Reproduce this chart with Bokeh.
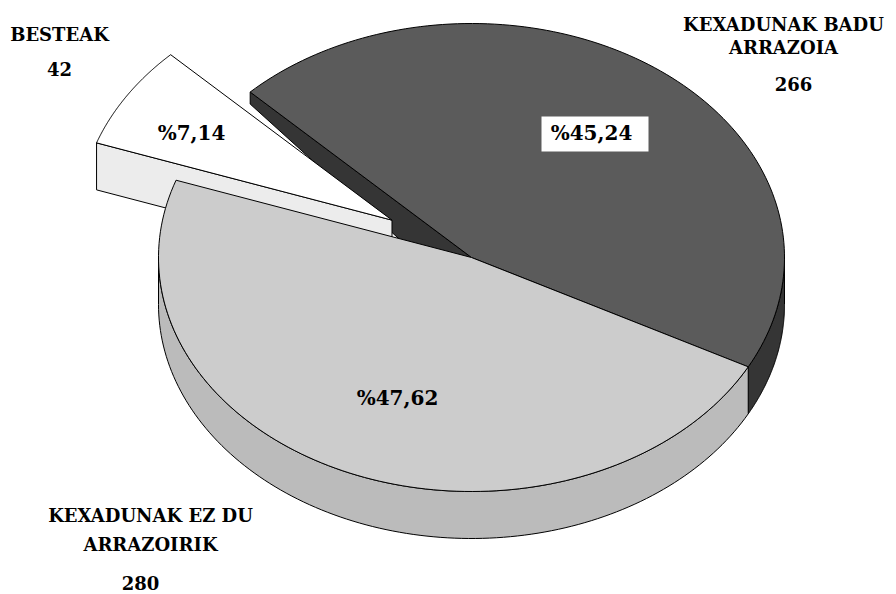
import numpy as np
from bokeh.plotting import figure
from bokeh.models import Range1d
from bokeh.core.properties import value
from bokeh.embed import file_html
from bokeh.resources import INLINE

# ---------------- data ----------------
categories = ["KEXADUNAK BADU ARRAZOIA", "KEXADUNAK EZ DU ARRAZOIRIK", "BESTEAK"]
label_lines = [["KEXADUNAK BADU", "ARRAZOIA"], ["KEXADUNAK EZ DU", "ARRAZOIRIK"], ["BESTEAK"]]
counts = [266, 280, 42]
exploded = [False, False, True]

# ---------------- style ----------------
top_colors = ["#5b5b5b", "#cccccc", "#ffffff"]
side_colors = ["#353535", "#bbbbbb", "#ececec"]
FONT = value("DejaVu Serif")
text_dy = -8.0  # compensate baseline placement of svg text

W, H = 896, 594
p = figure(width=W, height=H, x_range=Range1d(0, W), y_range=Range1d(H, 0),
           output_backend="svg", toolbar_location=None, min_border=0,
           x_axis_type=None, y_axis_type=None)
p.grid.visible = False
p.outline_line_color = None
p.background_fill_color = "white"

# pie geometry (pixel space of the page)
cx, cy = 471.0, 257.0
rx, ry = 313.0, 234.0
depth = 47.0
start_angle = 135.0
explode_k = 0.30
wall_rim_depth = 12.0

total = float(sum(counts))
spans = [c / total * 360.0 for c in counts]
starts, ends = [], []
a = start_angle
for s in spans:
    starts.append(a)
    ends.append(a - s)
    a -= s

offsets = []
for i in range(len(counts)):
    if exploded[i]:
        mid = np.radians((starts[i] + ends[i]) / 2.0)
        offsets.append((explode_k * rx * np.cos(mid), -explode_k * ry * np.sin(mid)))
    else:
        offsets.append((0.0, 0.0))


def arc(t1, t2, off, down=0.0, n=120):
    t = np.radians(np.linspace(t1, t2, n))
    return (cx + rx * np.cos(t) + off[0]).tolist(), (cy - ry * np.sin(t) + off[1] + down).tolist()


def pt(tdeg, off, down=0.0):
    t = np.radians(tdeg)
    return cx + rx * np.cos(t) + off[0], cy - ry * np.sin(t) + off[1] + down


def front_ranges(lo, hi):
    res = []
    for k in (-2, -1, 0, 1):
        a0, a1 = 180 + 360 * k, 360 + 360 * k
        l, h = max(lo, a0), min(hi, a1)
        if h > l:
            res.append((l, h))
    return res


def draw_side(i):
    off = offsets[i]
    for lo, hi in front_ranges(ends[i], starts[i]):
        xt, yt = arc(lo, hi, off)
        xb, yb = arc(hi, lo, off, depth)
        p.patch(xt + xb, yt + yb, fill_color=side_colors[i], line_color="black", line_width=1)


def draw_top(i):
    off = offsets[i]
    xs, ys = arc(starts[i], ends[i], off)
    xs = [cx + off[0]] + xs
    ys = [cy + off[1]] + ys
    p.patch(xs, ys, fill_color=top_colors[i], line_color="black", line_width=1)


# dark slice: radial wall exposed by the exploded slice
off0 = offsets[0]
px, py = pt(starts[0], off0)
p.patch([px, cx, cx, px], [py, cy, cy + depth, py + wall_rim_depth],
        fill_color=side_colors[0], line_color="black", line_width=1)
draw_side(0)
draw_top(0)

# exploded slice: its front radial wall, then top
off2 = offsets[2]
qx, qy = pt(starts[2], off2)
ccx, ccy = cx + off2[0], cy + off2[1]
p.patch([qx, ccx, ccx, qx], [qy, ccy, ccy + depth, qy + depth],
        fill_color=side_colors[2], line_color="black", line_width=1)
draw_top(2)

# large light slice
draw_side(1)
draw_top(1)

# ---------------- labels ----------------
pct_text = ["%" + f"{c / total * 100:.2f}".replace(".", ",") for c in counts]
pct_xy = [(591, 140), (397, 405), (191, 140)]

# white box behind the dark-slice percentage
p.quad(left=[541], right=[648], top=[116], bottom=[151], fill_color="white", line_color=None)

p.text(x=[q[0] for q in pct_xy], y=[q[1] + text_dy for q in pct_xy], text=pct_text,
       text_font=FONT, text_font_style="bold", text_font_size="20px",
       text_align="center", text_baseline="alphabetic", text_color="black")

name_pos = [(783, [31.7, 55.0]), (150, [523.3, 551.7]), (59, [41.7])]
count_pos = [(793, 91.7), (140, 590.0), (59, 76.0)]

nx, ny, nt = [], [], []
for i, lines in enumerate(label_lines):
    x0, yl = name_pos[i]
    for ln, yy in zip(lines, yl):
        nx.append(x0); ny.append(yy + text_dy); nt.append(ln)
for i, c in enumerate(counts):
    nx.append(count_pos[i][0]); ny.append(count_pos[i][1] + text_dy); nt.append(str(c))

p.text(x=nx, y=ny, text=nt, text_font=FONT, text_font_style="bold", text_font_size="18px",
       text_align="center", text_baseline="alphabetic", text_color="black")

open("out.html", "w").write(file_html(p, INLINE))
